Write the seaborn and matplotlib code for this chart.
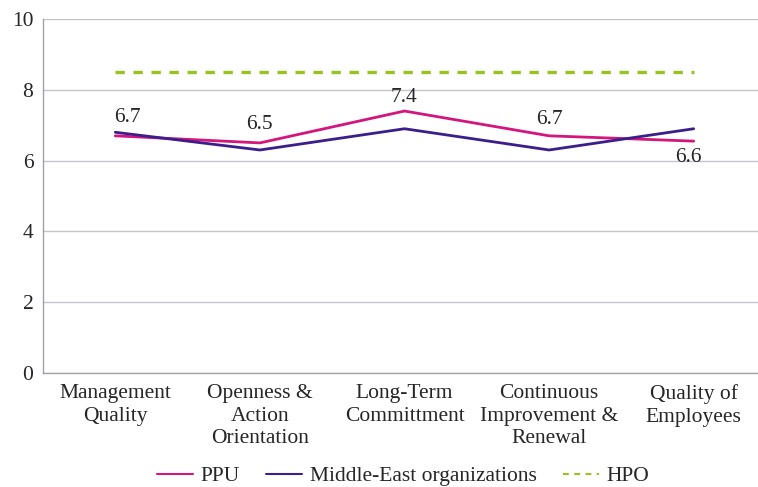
import matplotlib
matplotlib.use("Agg")
import matplotlib.pyplot as plt
import seaborn as sns
import pandas as pd

categories = ["Management\nQuality", "Openness &\nAction\nOrientation", "Long-Term\nCommittment",
              "Continuous\nImprovement &\nRenewal", "Quality of\nEmployees"]
ppu = [6.7, 6.5, 7.4, 6.7, 6.55]
ppu_labels = ["6.7", "6.5", "7.4", "6.7", "6.6"]
middle_east = [6.8, 6.3, 6.9, 6.3, 6.9]
hpo = [8.5, 8.5, 8.5, 8.5, 8.5]
series_names = ["PPU", "Middle-East organizations", "HPO"]

rows = []
for name, vals in zip(series_names, [ppu, middle_east, hpo]):
    for i, v in enumerate(vals):
        rows.append({"pos": i, "value": v, "series": name})
df = pd.DataFrame(rows)

sns.set_style("white")
plt.rcParams["font.family"] = ["Liberation Serif", "DejaVu Serif"]
FS = 15.5

fig = plt.figure(figsize=(7.58, 4.87), dpi=100)
ax = fig.add_axes([43 / 758, 114 / 487, 723 / 758, 354 / 487])

palette = {"PPU": "#d3157c", "Middle-East organizations": "#3b1e8c", "HPO": "#96c31e"}
dashes = {"PPU": "", "Middle-East organizations": "", "HPO": (2.8, 2.6)}
sns.lineplot(data=df, x="pos", y="value", hue="series", style="series",
             palette=palette, dashes=dashes, linewidth=2, ax=ax)
# HPO reference line is drawn a bit heavier
for line in ax.get_lines():
    if line.get_label() == "HPO" or tuple(line.get_ydata()) == tuple(hpo):
        line.set_linewidth(2.4)

# value labels for PPU (offsets in points, like the original layout)
label_offsets = [(9, 13), (0, 13), (0, 10), (0, 12), (-4, -12)]
for i, (v, lab) in enumerate(zip(ppu, ppu_labels)):
    ax.annotate(lab, (i, v), xytext=label_offsets[i], textcoords="offset points",
                ha="center", va="center", fontsize=FS)

ax.set_ylim(0, 10)
ax.set_yticks([0, 2, 4, 6, 8, 10])
ax.set_xlim(-0.5, 4.5)
ax.set_xticks(range(len(categories)))
ax.set_xticklabels(categories, fontsize=FS, linespacing=1.25)
ax.set_xticks([i - 0.5 for i in range(len(categories) + 1)], minor=True)
ax.tick_params(axis="x", which="major", length=0, pad=8)
ax.tick_params(axis="x", which="minor", length=5, color="#a0a0a8")
ax.tick_params(axis="y", length=5, color="#a0a0a8", labelsize=FS, pad=2)
ax.set_xlabel("")
ax.set_ylabel("")
ax.grid(axis="y", color="#c4c4cc", linewidth=1)
for s in ["top", "right"]:
    ax.spines[s].set_visible(False)
for s in ["left", "bottom"]:
    ax.spines[s].set_color("#a0a0a8")
    ax.spines[s].set_linewidth(1)

handles, labels = ax.get_legend_handles_labels()
for h in handles:
    h.set_linewidth(1.5)
ax.legend(handles, labels, loc="center", bbox_to_anchor=(403 / 758, 11 / 487),
          bbox_transform=fig.transFigure, ncol=3, frameon=False, fontsize=FS,
          handlelength=1.7, columnspacing=1.2, handletextpad=0.35)

fig.savefig("out.png", dpi=100)
